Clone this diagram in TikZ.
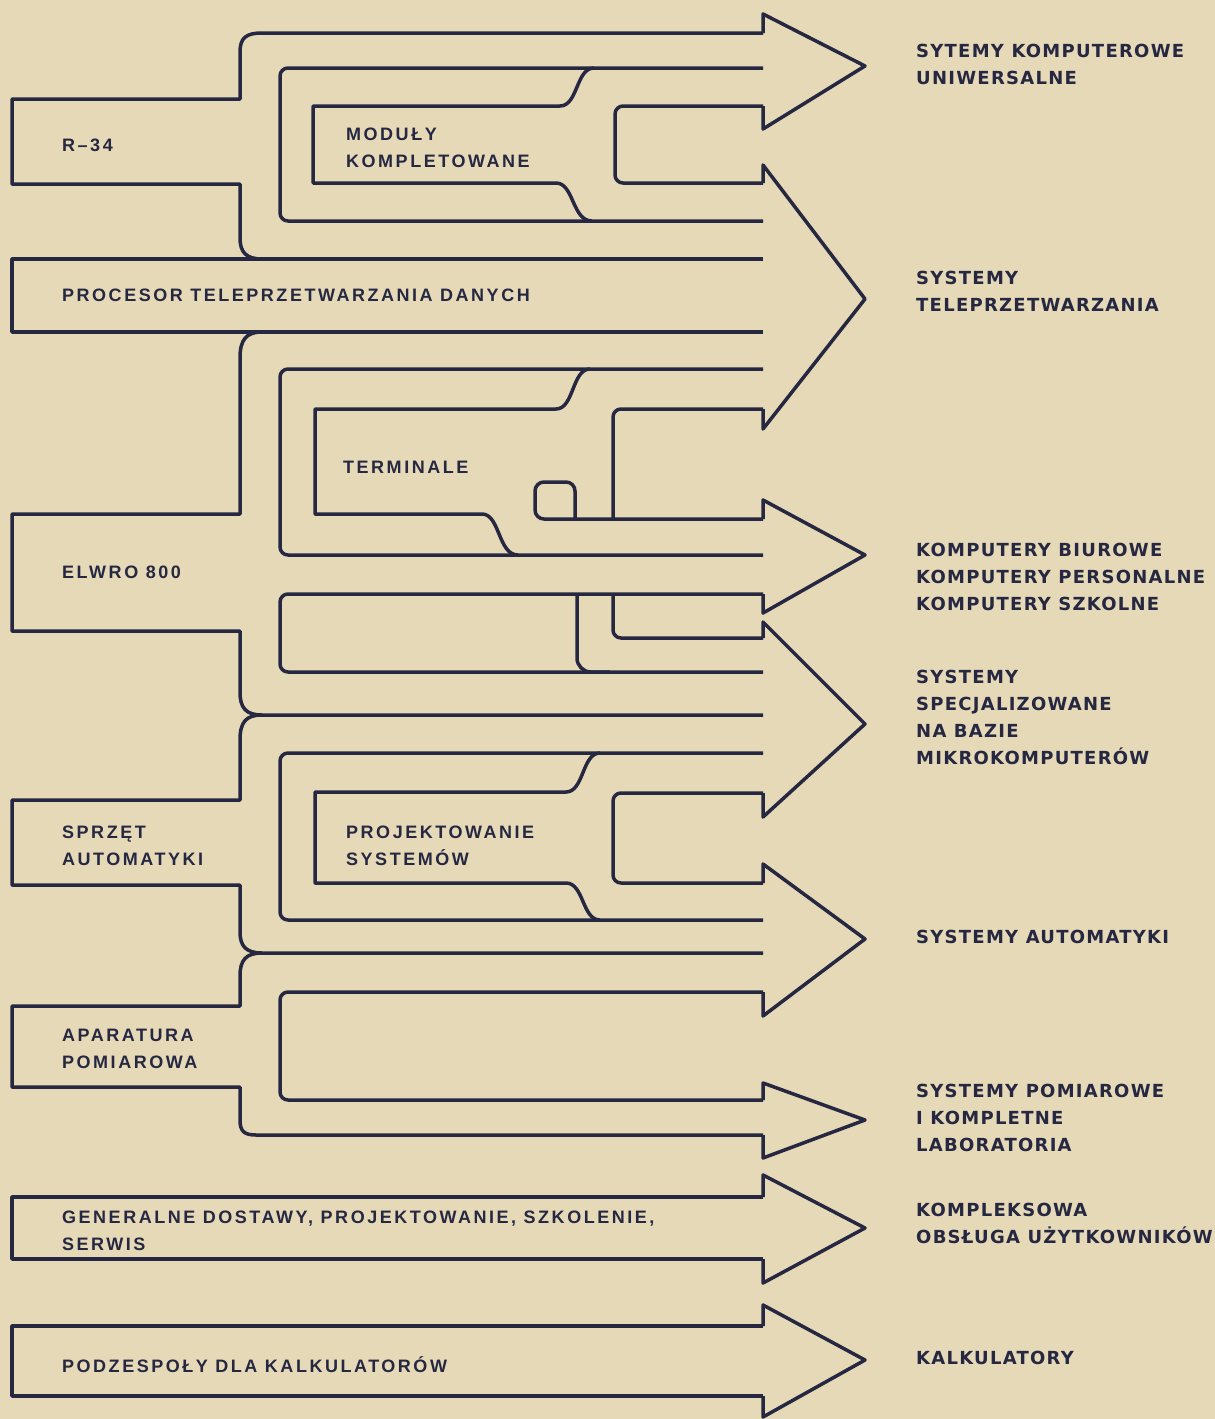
\documentclass[tikz,border=0pt]{standalone}
\usepackage{fontspec}
\setmainfont{Liberation Sans}
\newfontfamily\boxfont[LetterSpace=14]{Liberation Sans}
\newfontfamily\outfont[LetterSpace=7]{DejaVu Sans}
\definecolor{paper}{RGB}{230,217,184}
\definecolor{ink}{RGB}{38,40,66}
\tikzset{
  pipe/.style={draw=ink,line width=3.5pt},
  boxlbl/.style={anchor=west,inner sep=0pt,align=left,text=ink,
    font=\boxfont\bfseries\fontsize{18}{27}\selectfont},
  outlbl/.style={anchor=west,inner sep=0pt,align=left,text=ink,
    font=\outfont\bfseries\fontsize{18}{27}\selectfont},
}

\begin{document}
\begin{tikzpicture}[x=1pt,y=-1pt,line join=round]
    \fill[paper] (0,0) rectangle (1215,1419);
    \useasboundingbox (0,0) rectangle (1215,1419);
    % inputs on the left
    \draw[pipe] (763,33) -- (262,33) .. controls (246,33) and (240,38) .. (240,52)
      -- (240,99) -- (12,99) -- (12,184) -- (240,184) -- (240,238)
      .. controls (240,252) and (246,259) .. (262,259);
    \draw[pipe] (763,259) -- (12,259) -- (12,332) -- (763,332);
    \draw[pipe] (262,332) .. controls (246,332) and (240,340) .. (240,358)
      -- (240,514) -- (12,514) -- (12,631) -- (240,631) -- (240,692)
      .. controls (240,708) and (246,715) .. (262,715) -- (763,715);
    \draw[pipe] (262,715) .. controls (246,715) and (240,722) .. (240,740)
      -- (240,800) -- (12,800) -- (12,885) -- (240,885) -- (240,932)
      .. controls (240,946) and (246,953) .. (262,953) -- (763,953);
    \draw[pipe] (262,953) .. controls (246,953) and (240,960) .. (240,976)
      -- (240,1006) -- (12,1006) -- (12,1087) -- (240,1087) -- (240,1120)
      .. controls (240,1131) and (244,1135) .. (256,1135) -- (763,1135);
    \draw[pipe] (763,1197) -- (12,1197) -- (12,1259) -- (763,1259);
    \draw[pipe] (763,1326) -- (12,1326) -- (12,1396) -- (763,1396);
    % moduly
    \draw[pipe,rounded corners=8] (763,68) -- (280,68) -- (280,221) -- (763,221);
    \draw[pipe] (594,68) .. controls (576,68) and (578,106) .. (560,106)
      -- (313,106) -- (313,183) -- (556,183)
      .. controls (574,183) and (572,221) .. (592,221);
    \draw[pipe,rounded corners=8] (763,106) -- (615,106) -- (615,183) -- (763,183);
    % terminale
    \draw[pipe,rounded corners=8] (763,369) -- (280,369) -- (280,555) -- (763,555);
    \draw[pipe] (590,369) .. controls (572,369) and (574,409) .. (556,409)
      -- (315,409) -- (315,514) -- (482,514)
      .. controls (500,514) and (498,555) .. (518,555);
    \draw[pipe,rounded corners=8] (763,409) -- (613,409) -- (613,519);
    \draw[pipe,rounded corners=9] (575,519) -- (575,482) -- (535,482) -- (535,519) -- (763,519);
    \draw[pipe,rounded corners=8] (763,594) -- (280,594) -- (280,672) -- (763,672);
    \draw[pipe,rounded corners=14] (577,594) -- (577,672) -- (610,672);
    \draw[pipe,rounded corners=8] (613,594) -- (613,638) -- (763,638);
    % projektowanie
    \draw[pipe,rounded corners=8] (763,753) -- (280,753) -- (280,920) -- (763,920);
    \draw[pipe] (600,753) .. controls (582,753) and (584,792) .. (566,792)
      -- (315,792) -- (315,883) -- (566,883)
      .. controls (584,883) and (582,920) .. (600,920);
    \draw[pipe,rounded corners=8] (763,793) -- (613,793) -- (613,883) -- (763,883);
    \draw[pipe,rounded corners=8] (763,992) -- (280,992) -- (280,1100) -- (763,1100);
    % arrow heads
    \draw[pipe] (763,33) -- (763,14) -- (865,66) -- (763,129) -- (763,106);
    \draw[pipe] (763,183) -- (763,165) -- (865,299) -- (763,429) -- (763,409);
    \draw[pipe] (763,519) -- (763,500) -- (865,555) -- (763,613) -- (763,594);
    \draw[pipe] (763,638) -- (763,622) -- (865,724) -- (763,817) -- (763,793);
    \draw[pipe] (763,883) -- (763,864) -- (865,939) -- (763,1016) -- (763,992);
    \draw[pipe] (763,1100) -- (763,1083) -- (865,1120) -- (763,1158) -- (763,1135);
    \draw[pipe] (763,1197) -- (763,1175) -- (865,1228) -- (763,1283) -- (763,1259);
    \draw[pipe] (763,1326) -- (763,1305) -- (865,1360) -- (763,1417) -- (763,1396);
    % labels
    \node[boxlbl] (r34) at (62,145) {R–34};
    \node[boxlbl] (moduly) at (346,148) {MODUŁY\\KOMPLETOWANE};
    \node[boxlbl] (procesor) at (62,295) {PROCESOR TELEPRZETWARZANIA DANYCH};
    \node[boxlbl] (terminale) at (343,467) {TERMINALE};
    \node[boxlbl] (elwro) at (62,572) {ELWRO 800};
    \node[boxlbl] (sprzet) at (62,846) {SPRZĘT\\AUTOMATYKI};
    \node[boxlbl] (projekt) at (346,846) {PROJEKTOWANIE\\SYSTEMÓW};
    \node[boxlbl] (aparatura) at (62,1049) {APARATURA\\POMIAROWA};
    \node[boxlbl] (generalne) at (62,1231) {GENERALNE DOSTAWY, PROJEKTOWANIE, SZKOLENIE,\\SERWIS};
    \node[boxlbl] (podzespoly) at (62,1365) {PODZESPOŁY DLA KALKULATORÓW};
    \node[outlbl] (uniwers) at (916,64) {SYTEMY KOMPUTEROWE\\UNIWERSALNE};
    \node[outlbl] (teleprz) at (916,291) {SYSTEMY\\TELEPRZETWARZANIA};
    \node[outlbl] (biurowe) at (916,577) {KOMPUTERY BIUROWE\\KOMPUTERY PERSONALNE\\KOMPUTERY SZKOLNE};
    \node[outlbl] (specjal) at (916,717) {SYSTEMY\\SPECJALIZOWANE\\NA BAZIE\\MIKROKOMPUTERÓW};
    \node[outlbl] (automat) at (916,937) {SYSTEMY AUTOMATYKI};
    \node[outlbl] (pomiar) at (916,1118) {SYSTEMY POMIAROWE\\I KOMPLETNE\\LABORATORIA};
    \node[outlbl] (obsluga) at (916,1223) {KOMPLEKSOWA\\OBSŁUGA UŻYTKOWNIKÓW};
    \node[outlbl] (kalkul) at (916,1358) {KALKULATORY};
\end{tikzpicture}
\end{document}
